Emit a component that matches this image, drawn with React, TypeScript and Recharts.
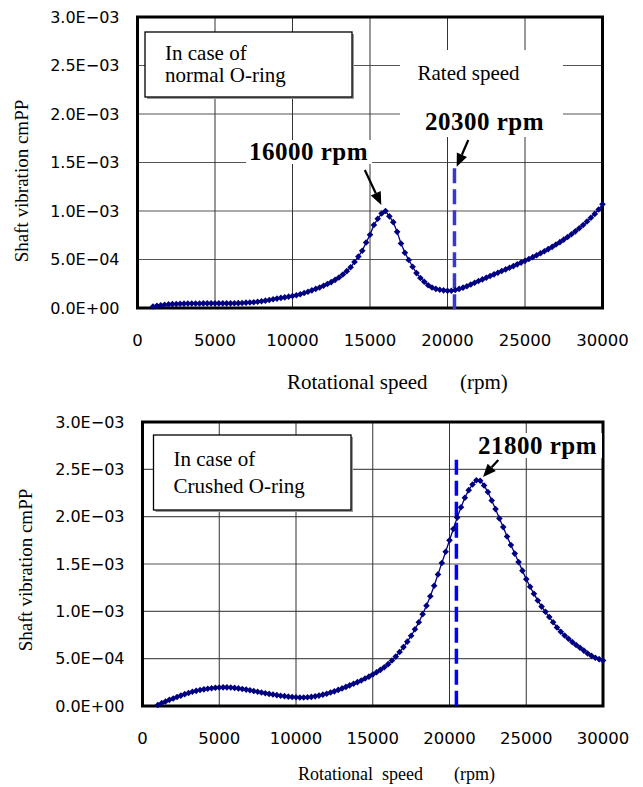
import React from "react";
import { ScatterChart, Scatter, XAxis, YAxis, CartesianGrid, ReferenceLine, ReferenceArea } from "recharts";

// rotational speed of each measured point (rpm)
const SPEEDS = [
  1000, 1250, 1500, 1750, 2000, 2250, 2500, 2750, 3000, 3250, 3500, 3750,
  4000, 4250, 4500, 4750, 5000, 5250, 5500, 5750, 6000, 6250, 6500, 6750,
  7000, 7250, 7500, 7750, 8000, 8250, 8500, 8750, 9000, 9250, 9500, 9750,
  10000, 10250, 10500, 10750, 11000, 11250, 11500, 11750, 12000, 12250, 12500, 12750,
  13000, 13250, 13500, 13750, 14000, 14250, 14500, 14750, 15000, 15250, 15500, 15750,
  16000, 16250, 16500, 16750, 17000, 17250, 17500, 17750, 18000, 18250, 18500, 18750,
  19000, 19250, 19500, 19750, 20000, 20250, 20500, 20750, 21000, 21250, 21500, 21750,
  22000, 22250, 22500, 22750, 23000, 23250, 23500, 23750, 24000, 24250, 24500, 24750,
  25000, 25250, 25500, 25750, 26000, 26250, 26500, 26750, 27000, 27250, 27500, 27750,
  28000, 28250, 28500, 28750, 29000, 29250, 29500, 29750, 30000,
];

// shaft vibration, in units of 1E-04 cmPP
const NORMAL_VIB = [
  0.15, 0.22, 0.28, 0.33, 0.37, 0.4, 0.42, 0.44, 0.45, 0.46, 0.47, 0.47,
  0.47, 0.48, 0.48, 0.48, 0.48, 0.48, 0.48, 0.48, 0.48, 0.49, 0.5, 0.52,
  0.55, 0.57, 0.6, 0.65, 0.7, 0.76, 0.82, 0.9, 0.97, 1.04, 1.1, 1.17,
  1.24, 1.32, 1.42, 1.55, 1.68, 1.82, 1.97, 2.12, 2.3, 2.48, 2.67, 2.9,
  3.15, 3.45, 3.8, 4.2, 4.75, 5.3, 5.9, 6.75, 7.55, 8.55, 9.2, 9.75,
  10.0, 9.45, 8.85, 7.85, 6.65, 5.7, 4.95, 4.25, 3.6, 3.1, 2.7, 2.35,
  2.12, 1.97, 1.88, 1.82, 1.78, 1.78, 1.85, 1.97, 2.1, 2.25, 2.42, 2.6,
  2.78, 2.95, 3.12, 3.3, 3.47, 3.64, 3.81, 3.98, 4.15, 4.32, 4.5, 4.68,
  4.86, 5.05, 5.24, 5.44, 5.64, 5.85, 6.07, 6.3, 6.54, 6.79, 7.05, 7.32,
  7.6, 7.9, 8.22, 8.56, 8.92, 9.3, 9.7, 10.15, 10.7,
];

const CRUSHED_VIB = [
  0.1, 0.3, 0.48, 0.65, 0.8, 0.95, 1.1, 1.25, 1.38, 1.5, 1.6, 1.69,
  1.76, 1.82, 1.88, 1.92, 1.95, 1.97, 1.97, 1.95, 1.91, 1.86, 1.8, 1.73,
  1.66, 1.58, 1.5, 1.42, 1.35, 1.28, 1.22, 1.15, 1.09, 1.04, 0.99, 0.95,
  0.92, 0.9, 0.9, 0.92, 0.96, 1.02, 1.1, 1.2, 1.3, 1.42, 1.55, 1.7,
  1.86, 2.02, 2.18, 2.35, 2.52, 2.7, 2.9, 3.1, 3.32, 3.56, 3.82, 4.1,
  4.42, 4.8, 5.22, 5.7, 6.22, 6.8, 7.42, 8.1, 8.85, 9.7, 10.6, 11.6,
  12.7, 13.9, 15.1, 16.3, 17.5, 18.7, 19.9, 21.0, 22.0, 22.8, 23.4, 23.85,
  23.8, 23.3, 22.6, 21.7, 20.8, 19.8, 18.9, 17.9, 17.0, 16.1, 15.2, 14.3,
  13.4, 12.6, 11.85, 11.15, 10.5, 9.95, 9.4, 8.85, 8.3, 7.85, 7.45, 7.1,
  6.75, 6.45, 6.15, 5.85, 5.55, 5.3, 5.1, 4.95, 4.8,
];

const RPM_TICKS = [0, 5000, 10000, 15000, 20000, 25000, 30000];
const VIB_TICKS = [0, 0.0005, 0.001, 0.0015, 0.002, 0.0025, 0.003];
const RATED_RPM = 20450;

const normalData = SPEEDS.map((rpm, i) => ({ rpm, v: NORMAL_VIB[i] * 1e-4 }));
const crushedData = SPEEDS.map((rpm, i) => ({ rpm, v: CRUSHED_VIB[i] * 1e-4 }));

const SERIF = "'Liberation Serif', 'Times New Roman', serif";
const SANS = "'DejaVu Sans', sans-serif";
const NAVY = "#000080";

const fmtExp = (v: number) => {
  const [m, e] = v.toExponential(1).split("e");
  const n = parseInt(e, 10);
  return `${m}E${n < 0 ? "\u2212" : "+"}${String(Math.abs(n)).padStart(2, "0")}`;
};

const Diamond = (props: any) => {
  const { cx, cy } = props;
  const r = 3.3;
  return <polygon points={`${cx},${cy - r} ${cx + r},${cy} ${cx},${cy + r} ${cx - r},${cy}`} fill={NAVY} />;
};

type PanelProps = {
  data: { rpm: number; v: number }[];
  top: number;
  height: number;
  marginTop: number;
  marginRight: number;
  yWidth: number;
  xHeight: number;
  dashColor: string;
  dashFrom: number;
  dashTo: number;
};

const Panel = ({ data, top, height, marginTop, marginRight, yWidth, xHeight, dashColor, dashFrom, dashTo }: PanelProps) => (
  <div style={{ position: "absolute", left: 0, top }}>
    <ScatterChart width={643} height={height} margin={{ top: marginTop, right: marginRight, bottom: 0, left: 0 }}>
      <CartesianGrid vertical={false} stroke="#555" strokeWidth={1.2} />
      <CartesianGrid horizontal={false} stroke="#333" strokeWidth={1} />
      <XAxis
        type="number"
        dataKey="rpm"
        domain={[0, 30000]}
        ticks={RPM_TICKS}
        height={xHeight}
        axisLine={false}
        tickLine={false}
        tickSize={0}
        tickMargin={26}
        tick={{ fontFamily: SANS, fontSize: 16.5, fill: "#000" }}
      />
      <YAxis
        type="number"
        dataKey="v"
        domain={[0, 0.003]}
        ticks={VIB_TICKS}
        width={yWidth}
        axisLine={false}
        tickLine={false}
        tickSize={0}
        tickMargin={18}
        tickFormatter={fmtExp}
        tick={{ fontFamily: SANS, fontSize: 16, fill: "#000" }}
      />
      <Scatter data={data} shape={Diamond} line={{ stroke: NAVY, strokeWidth: 1.3 }} isAnimationActive={false} />
      <ReferenceLine
        segment={[{ x: RATED_RPM, y: dashFrom }, { x: RATED_RPM, y: dashTo }]}
        stroke={dashColor}
        strokeWidth={3.5}
        strokeDasharray="15 6"
        ifOverflow="visible"
      />
      <ReferenceArea x1={0} x2={30000} y1={0} y2={0.003} fill="none" stroke="#000" strokeWidth={3} ifOverflow="visible" />
    </ScatterChart>
  </div>
);

const Arrow = ({ x1, y1, x2, y2 }: { x1: number; y1: number; x2: number; y2: number }) => {
  const dx = x2 - x1;
  const dy = y2 - y1;
  const len = Math.hypot(dx, dy);
  const ux = dx / len;
  const uy = dy / len;
  const hl = 13;
  const hw = 5.5;
  const bx = x2 - ux * hl;
  const by = y2 - uy * hl;
  return (
    <g>
      <line x1={x1} y1={y1} x2={bx} y2={by} stroke="#000" strokeWidth={2.2} />
      <polygon points={`${x2},${y2} ${bx - uy * hw},${by + ux * hw} ${bx + uy * hw},${by - ux * hw}`} fill="#000" />
    </g>
  );
};

const NoteBox = ({ x, y, w, h }: { x: number; y: number; w: number; h: number }) => (
  <g>
    <rect x={x + 2} y={y + 2} width={w} height={h} fill="#9a9a9a" />
    <rect x={x} y={y} width={w} height={h} fill="#fff" stroke="#000" strokeWidth={1.3} />
  </g>
);

const Annotations = () => (
  <svg width={643} height={787} style={{ position: "absolute", left: 0, top: 0, pointerEvents: "none" }}>
    {/* top panel */}
    <NoteBox x={145} y={32} w={207} h={65} />
    <text x={165} y={59.5} fontFamily={SERIF} fontSize={21}>In case of</text>
    <text x={165} y={82} fontFamily={SERIF} fontSize={21}>normal O-ring</text>
    <rect x={400} y={50} width={163} height={87} fill="#fff" />
    <text x={417.5} y={80} fontFamily={SERIF} fontSize={21}>Rated speed</text>
    <text x={425} y={129.5} fontFamily={SERIF} fontSize={25} fontWeight="bold" letterSpacing={0.5}>20300 rpm</text>
    <rect x={246} y={140} width={126} height={24} fill="#fff" />
    <text x={249} y={160} fontFamily={SERIF} fontSize={25} fontWeight="bold" letterSpacing={0.5}>16000 rpm</text>
    <Arrow x1={364.8} y1={170} x2={381.3} y2={205} />
    <Arrow x1={468.3} y1={140} x2={456.7} y2={166.7} />
    <text x={21} y={181} fontFamily={SERIF} fontSize={19} textAnchor="middle" dominantBaseline="central" transform="rotate(-90 21 181)">
      Shaft vibration cmPP
    </text>
    <text x={287} y={389} fontFamily={SERIF} fontSize={21}>Rotational speed</text>
    <text x={460} y={389} fontFamily={SERIF} fontSize={21}>(rpm)</text>

    {/* bottom panel */}
    <NoteBox x={153.5} y={435} w={197.5} h={75} />
    <text x={173.5} y={466} fontFamily={SERIF} fontSize={21}>In case of</text>
    <text x={173.5} y={493} fontFamily={SERIF} fontSize={21}>Crushed O-ring</text>
    <rect x={476} y={433} width={126} height={25} fill="#fff" />
    <text x={478} y={453.5} fontFamily={SERIF} fontSize={25} fontWeight="bold" letterSpacing={0.5}>21800 rpm</text>
    <Arrow x1={498.3} y1={460} x2={483} y2={477} />
    <text x={25} y={570} fontFamily={SERIF} fontSize={19} textAnchor="middle" dominantBaseline="central" transform="rotate(-90 25 570)">
      Shaft vibration cmPP
    </text>
    <text x={298} y={780} fontFamily={SERIF} fontSize={18} xmlSpace="preserve">Rotational  speed</text>
    <text x={454} y={780} fontFamily={SERIF} fontSize={18}>(rpm)</text>
  </svg>
);

export default function App() {
  return (
    <div style={{ position: "absolute", left: 0, top: 0, width: 643, height: 787, background: "#fff" }}>
      <Panel
        data={normalData}
        top={0}
        height={360}
        marginTop={17}
        marginRight={40.5}
        yWidth={137.5}
        xHeight={52}
        dashColor="#3838D0"
        dashFrom={0.00144}
        dashTo={-0.000038}
      />
      <Panel
        data={crushedData}
        top={400}
        height={360}
        marginTop={22}
        marginRight={40}
        yWidth={142.5}
        xHeight={54}
        dashColor="#0000FF"
        dashFrom={0.0026}
        dashTo={-0.00001}
      />
      <Annotations />
    </div>
  );
}
